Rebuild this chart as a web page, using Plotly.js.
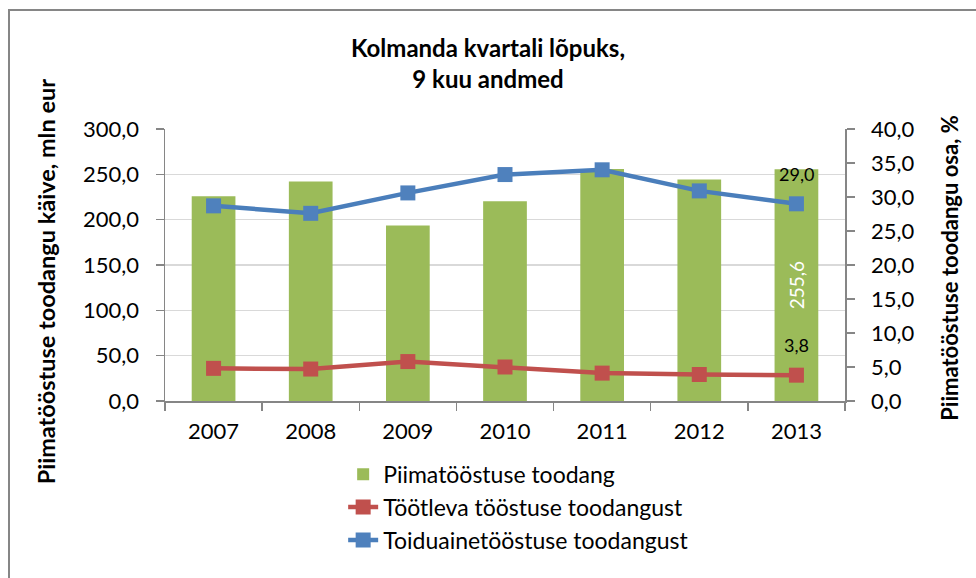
<!DOCTYPE html>
<html>
<head>
<meta charset="utf-8">
<script src="https://cdn.plot.ly/plotly-3.0.1.min.js"></script>
<style>
  html, body { margin: 0; padding: 0; background: #ffffff; }
  #frame { position: absolute; left: 8px; top: 9px; width: 1000px; height: 600px;
           border-left: 2px solid #868686; border-top: 2px solid #868686; }
  #chart { position: absolute; left: 0; top: 0; width: 976px; height: 578px; }
</style>
</head>
<body>
<div id="frame"></div>
<div id="chart"></div>
<script>
const years = ['2007', '2008', '2009', '2010', '2011', '2012', '2013'];
const dairyOutput = [225.7, 242.2, 193.6, 220.3, 255.8, 244.4, 255.6];     // mln eur
const shareOfManufacturing = [4.8, 4.7, 5.8, 5.0, 4.1, 3.9, 3.8];          // %
const shareOfFood = [28.7, 27.6, 30.6, 33.3, 34.0, 30.9, 29.0];            // %

const leftTicks = [0, 50, 100, 150, 200, 250, 300];
const rightTicks = [0, 5, 10, 15, 20, 25, 30, 35, 40];

const seriesNames = ['Piimatööstuse toodang', 'Töötleva tööstuse toodangust', 'Toiduainetööstuse toodangust'];
const titleText = 'Kolmanda kvartali lõpuks,<br>9 kuu andmed';
const leftTitle = 'Piimatööstuse toodangu käive, mln eur';
const rightTitle = 'Piimatööstuse toodangu osa, %';

const FONT = 'Lato, "Open Sans", sans-serif';
const fmt = v => v.toFixed(1).replace('.', ',');
const last = years.length - 1;

const barText = dairyOutput.map((v, i) => i === last ? fmt(v) : '');

const traces = [
  {
    type: 'bar', x: years, y: dairyOutput, name: seriesNames[0], legendgroup: 'a',
    marker: { color: '#9bbb59' }, width: 0.45,
    text: barText, textposition: 'inside', insidetextanchor: 'middle', textangle: -90,
    textfont: { color: '#ffffff', size: 19, family: FONT },
    hoverinfo: 'x+y'
  },
  {
    type: 'scatter', mode: 'lines+markers', x: years, y: shareOfManufacturing, name: seriesNames[1],
    yaxis: 'y2', legendgroup: 'b',
    line: { color: '#c0504d', width: 4.5 },
    marker: { symbol: 'square', size: 15, color: '#c0504d' }
  },
  {
    type: 'scatter', mode: 'lines+markers', x: years, y: shareOfFood, name: seriesNames[2],
    yaxis: 'y2', legendgroup: 'c',
    line: { color: '#4a7ebb', width: 4.5 },
    marker: { symbol: 'square', size: 15, color: '#4f81bd' }
  }
];

const layout = {
  width: 976, height: 578,
  paper_bgcolor: 'rgba(0,0,0,0)', plot_bgcolor: 'rgba(0,0,0,0)',
  font: { family: FONT, color: '#000000', size: 20 },
  margin: { l: 165, r: 131, t: 129, b: 177, pad: 0 },
  title: { text: titleText, font: { family: FONT, size: 24, color: '#000000', weight: 'bold' },
           x: 0.5, xanchor: 'center', y: 0.902, yanchor: 'top' },
  showlegend: true,
  legend: {
    x: 0.262, xanchor: 'left', y: -0.19, yanchor: 'top',
    orientation: 'v', traceorder: 'normal',
    font: { family: FONT, size: 23, color: '#000000' },
    tracegroupgap: 10, bgcolor: 'rgba(0,0,0,0)'
  },
  bargap: 0.55,
  xaxis: {
    type: 'category', categoryorder: 'array', categoryarray: years,
    showline: true, linecolor: '#868686', linewidth: 1.5,
    ticks: 'outside', tickson: 'boundaries', ticklen: 8, tickcolor: '#868686', tickwidth: 1.5,
    tickangle: 0, ticklabelstandoff: 10,
    tickfont: { family: FONT, size: 22, color: '#000000' }, showgrid: false
  },
  yaxis: {
    range: [0, 300], tickmode: 'array', tickvals: leftTicks, ticktext: leftTicks.map(fmt),
    showline: true, linecolor: '#868686', linewidth: 1.5,
    ticks: 'outside', ticklen: 8, tickcolor: '#868686', tickwidth: 1.5, ticklabelstandoff: 12,
    showgrid: true, gridcolor: '#d9d9d9', gridwidth: 1.5, zeroline: false,
    tickfont: { family: FONT, size: 22, color: '#000000' }
  },
  yaxis2: {
    overlaying: 'y', side: 'right', range: [0, 40],
    tickmode: 'array', tickvals: rightTicks, ticktext: rightTicks.map(fmt),
    showline: true, linecolor: '#868686', linewidth: 1.5,
    ticks: 'outside', ticklen: 8, tickcolor: '#868686', tickwidth: 1.5, ticklabelstandoff: 12,
    showgrid: false, zeroline: false,
    tickfont: { family: FONT, size: 22, color: '#000000' }
  },
  annotations: [
    { xref: 'paper', yref: 'paper', x: -0.175, y: 0.44, xanchor: 'center', yanchor: 'middle',
      text: leftTitle, textangle: -90, showarrow: false,
      font: { family: FONT, size: 23.5, weight: 'bold', color: '#000000' } },
    { xref: 'paper', yref: 'paper', x: 1.154, y: 0.489, xanchor: 'center', yanchor: 'middle',
      text: rightTitle, textangle: -90, showarrow: false,
      font: { family: FONT, size: 22, weight: 'bold', color: '#000000' } },
    { xref: 'x', yref: 'y2', x: last, y: shareOfFood[last], text: fmt(shareOfFood[last]),
      showarrow: false, yshift: 30, font: { family: FONT, size: 18, color: '#000000' } },
    { xref: 'x', yref: 'y2', x: last, y: shareOfManufacturing[last], text: fmt(shareOfManufacturing[last]),
      showarrow: false, yshift: 30, font: { family: FONT, size: 18, color: '#000000' } }
  ]
};

Plotly.newPlot('chart', traces, layout, { displayModeBar: false, staticPlot: true });
</script>
</body>
</html>
